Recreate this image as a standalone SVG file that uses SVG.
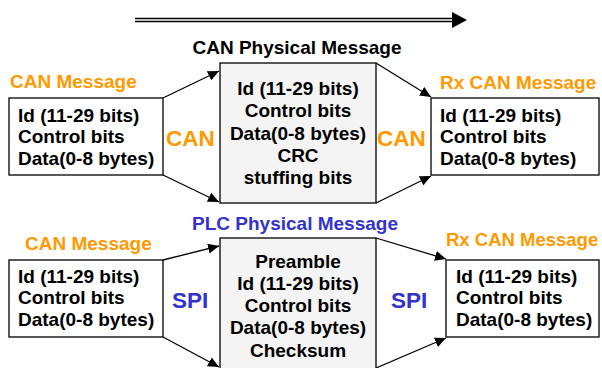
<svg xmlns="http://www.w3.org/2000/svg" width="602" height="368" viewBox="0 0 602 368">
<style>
text{font-family:"Liberation Sans",Arial,sans-serif;font-weight:bold;font-size:19px;fill:#000}
.c{text-anchor:middle}
.or{fill:#ff9900}
.bl{fill:#3333cc}
.big{font-size:22.5px}
.box{fill:#fff;stroke:#000;stroke-width:1.3}
.mid{fill:#f4f4f4;stroke:#000;stroke-width:1.3}
.con line{stroke:#000;stroke-width:1.3;marker-end:url(#ah)}
</style>
<defs>
<marker id="ah" markerWidth="12" markerHeight="10" refX="11" refY="5" orient="auto" markerUnits="userSpaceOnUse">
<path d="M0,0 L11,5 L0,10 Z" fill="#000"/>
</marker>
</defs>
<g id="direction">
<line x1="135" y1="18.5" x2="454" y2="18.5" stroke="#000" stroke-width="1.5"/>
<line x1="135" y1="21.5" x2="454" y2="21.5" stroke="#000" stroke-width="1.5"/>
<polygon points="452,12 467,20 452,28" fill="#000"/>
</g>
<g id="can-tx">
<text class="or" x="10" y="88">CAN Message</text>
<rect class="box" x="9" y="98" width="154" height="77"/>
<text x="18" y="122">Id (11-29 bits)</text>
<text x="18" y="143">Control bits</text>
<text x="18" y="165">Data(0-8 bytes)</text>
</g>
<g id="can-phys">
<text class="c" x="297" y="54">CAN Physical Message</text>
<rect class="mid" x="220" y="63" width="156" height="140"/>
<text class="c" x="298" y="95">Id (11-29 bits)</text>
<text class="c" x="298" y="117">Control bits</text>
<text class="c" x="298" y="140">Data(0-8 bytes)</text>
<text class="c" x="298" y="162">CRC</text>
<text class="c" x="298" y="184">stuffing bits</text>
</g>
<g id="can-rx">
<text class="or" x="440" y="89">Rx CAN Message</text>
<rect class="box" x="431" y="98" width="168" height="77"/>
<text x="440" y="122">Id (11-29 bits)</text>
<text x="440" y="143">Control bits</text>
<text x="440" y="165">Data(0-8 bytes)</text>
</g>
<g id="plc-tx">
<text class="or" x="25" y="250">CAN Message</text>
<rect class="box" x="9" y="260" width="154" height="77"/>
<text x="18" y="283">Id (11-29 bits)</text>
<text x="18" y="304">Control bits</text>
<text x="18" y="326">Data(0-8 bytes)</text>
</g>
<g id="plc-phys">
<text class="c bl" x="295" y="230">PLC Physical Message</text>
<rect class="mid" x="220" y="238" width="156" height="140"/>
<text class="c" x="298" y="268">Preamble</text>
<text class="c" x="298" y="290">Id (11-29 bits)</text>
<text class="c" x="298" y="312">Control bits</text>
<text class="c" x="298" y="334">Data(0-8 bytes)</text>
<text class="c" x="298" y="357">Checksum</text>
</g>
<g id="plc-rx">
<text class="or" x="446" y="246" style="font-size:18.5px">Rx CAN Message</text>
<rect class="box" x="446" y="260" width="153" height="77"/>
<text x="456" y="283">Id (11-29 bits)</text>
<text x="456" y="304">Control bits</text>
<text x="456" y="326">Data(0-8 bytes)</text>
</g>
<g id="connectors" class="con">
<line x1="163" y1="98" x2="219" y2="71"/>
<line x1="163" y1="175" x2="219" y2="202"/>
<line x1="376" y1="63" x2="431" y2="97"/>
<line x1="376" y1="203" x2="431" y2="176"/>
<line x1="163" y1="260" x2="219" y2="246"/>
<line x1="163" y1="337" x2="219" y2="367"/>
<line x1="376" y1="238" x2="446" y2="259"/>
<line x1="376" y1="368" x2="446" y2="338"/>
</g>
<g id="labels">
<text class="or big" x="166" y="146">CAN</text>
<text class="or big" x="377" y="146">CAN</text>
<text class="bl big" x="172" y="308">SPI</text>
<text class="bl big" x="391" y="308">SPI</text>
</g>
</svg>
